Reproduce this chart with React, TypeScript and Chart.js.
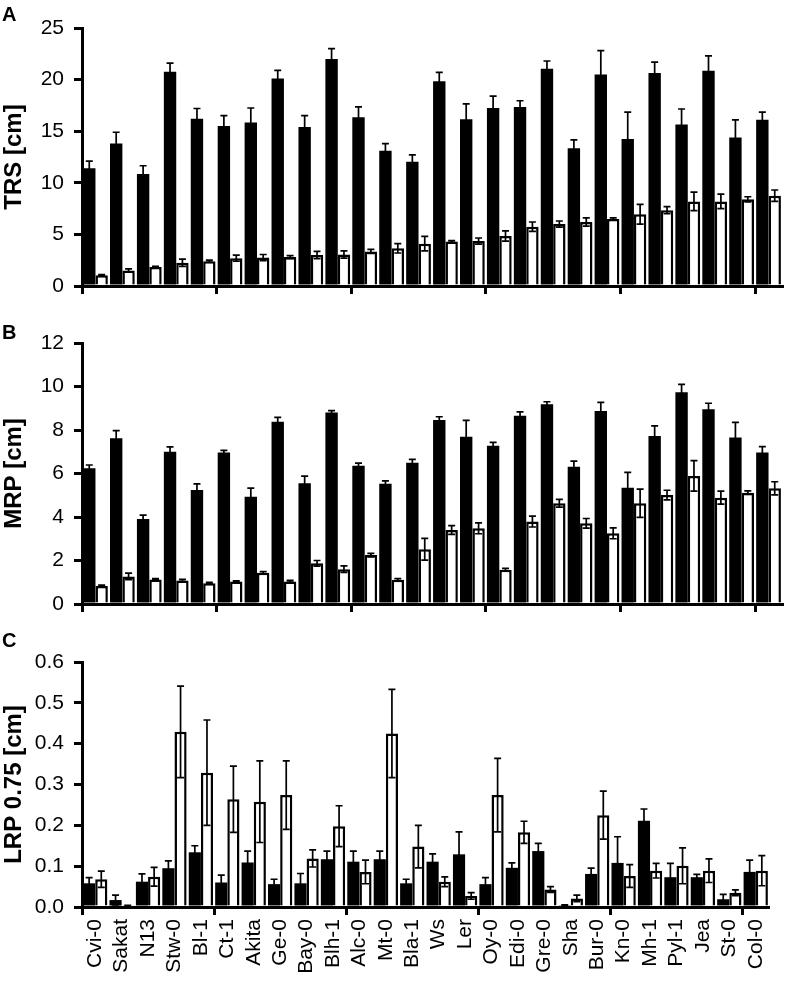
import React, { useEffect, useRef } from "react";
import { Chart, registerables } from "chart.js";

Chart.register(...registerables);

const categories = ["Cvi-0","Sakat","N13","Stw-0","Bl-1","Ct-1","Akita","Ge-0","Bay-0","Blh-1","Alc-0","Mt-0","Bla-1","Ws","Ler","Oy-0","Edi-0","Gre-0","Sha","Bur-0","Kn-0","Mh-1","Pyl-1","Jea","St-0","Col-0"];

const trsBlack = [11.4, 13.8, 10.85, 20.75, 16.2, 15.5, 15.85, 20.1, 15.4, 22.0, 16.35, 13.1, 12.05, 19.85, 16.15, 17.25, 17.35, 21.05, 13.35, 20.5, 14.25, 20.65, 15.65, 20.85, 14.4, 16.1];
const trsBlackErr = [0.7, 1.1, 0.8, 0.85, 1.0, 1.0, 1.4, 0.8, 1.1, 1.0, 1.0, 0.7, 0.65, 0.85, 1.5, 1.15, 0.6, 0.75, 0.8, 2.3, 2.6, 1.05, 1.5, 1.45, 1.7, 0.75];
const trsWhite = [1.05, 1.5, 1.85, 2.25, 2.4, 2.7, 2.75, 2.8, 3.0, 3.05, 3.35, 3.65, 4.1, 4.3, 4.35, 4.85, 5.75, 6.0, 6.2, 6.5, 6.95, 7.35, 8.2, 8.2, 8.4, 8.75];
const trsWhiteErr = [0.05, 0.15, 0.05, 0.35, 0.1, 0.3, 0.3, 0.15, 0.35, 0.35, 0.2, 0.45, 0.7, 0.1, 0.3, 0.5, 0.45, 0.3, 0.4, 0.1, 0.95, 0.35, 0.9, 0.7, 0.25, 0.55];

const mrpBlack = [6.24, 7.62, 3.91, 7.0, 5.24, 6.96, 4.93, 8.38, 5.55, 8.81, 6.36, 5.53, 6.5, 8.46, 7.69, 7.28, 8.66, 9.18, 6.31, 8.87, 5.35, 7.72, 9.73, 8.95, 7.65, 6.96];
const mrpBlackErr = [0.15, 0.35, 0.18, 0.22, 0.28, 0.1, 0.4, 0.2, 0.33, 0.08, 0.12, 0.13, 0.15, 0.15, 0.75, 0.15, 0.17, 0.12, 0.26, 0.4, 0.7, 0.47, 0.37, 0.28, 0.7, 0.28];
const mrpWhite = [0.83, 1.27, 1.13, 1.08, 0.95, 1.03, 1.44, 1.04, 1.87, 1.6, 2.25, 1.12, 2.52, 3.4, 3.48, 1.58, 3.79, 4.63, 3.71, 3.25, 4.63, 5.01, 5.89, 4.89, 5.12, 5.32];
const mrpWhiteErr = [0.04, 0.15, 0.04, 0.05, 0.04, 0.04, 0.05, 0.05, 0.13, 0.15, 0.08, 0.05, 0.5, 0.2, 0.25, 0.06, 0.25, 0.18, 0.22, 0.25, 0.65, 0.22, 0.7, 0.3, 0.08, 0.3];

const lrpBlack = [0.058, 0.017, 0.062, 0.095, 0.134, 0.06, 0.109, 0.056, 0.058, 0.117, 0.111, 0.117, 0.058, 0.111, 0.129, 0.056, 0.096, 0.137, 0.003, 0.081, 0.108, 0.211, 0.073, 0.073, 0.019, 0.086];
const lrpBlackErr = [0.014, 0.012, 0.019, 0.018, 0.016, 0.018, 0.028, 0.012, 0.024, 0.02, 0.026, 0.02, 0.01, 0.019, 0.055, 0.016, 0.012, 0.019, 0.002, 0.014, 0.064, 0.029, 0.034, 0.007, 0.012, 0.029];
const lrpWhite = [0.068, 0.003, 0.074, 0.429, 0.329, 0.264, 0.258, 0.274, 0.119, 0.198, 0.086, 0.425, 0.148, 0.062, 0.027, 0.274, 0.183, 0.043, 0.021, 0.225, 0.076, 0.089, 0.101, 0.089, 0.035, 0.089];
const lrpWhiteErr = [0.02, 0.001, 0.023, 0.112, 0.129, 0.081, 0.1, 0.084, 0.021, 0.05, 0.029, 0.108, 0.052, 0.012, 0.008, 0.09, 0.027, 0.007, 0.008, 0.059, 0.028, 0.018, 0.044, 0.029, 0.007, 0.037];

const FONT = "'Liberation Sans', Arial, Helvetica, sans-serif";

const errorBarPlugin = {
  id: "errorBars",
  afterDatasetsDraw(chart: any) {
    const ctx = chart.ctx;
    const yScale = chart.scales.y;
    ctx.save();
    ctx.strokeStyle = "#000";
    ctx.lineWidth = 1.7;
    chart.data.datasets.forEach((ds: any, di: number) => {
      const meta = chart.getDatasetMeta(di);
      const errs = ds.errors || [];
      meta.data.forEach((el: any, i: number) => {
        const v = ds.data[i];
        const e = errs[i];
        if (e == null) return;
        const x = el.x;
        const yTop = yScale.getPixelForValue(v + e);
        const yBot = yScale.getPixelForValue(Math.max(0, v - e));
        const cap = 3.5;
        ctx.beginPath();
        ctx.moveTo(x, yBot);
        ctx.lineTo(x, yTop);
        ctx.moveTo(x - cap, yTop);
        ctx.lineTo(x + cap, yTop);
        ctx.moveTo(x - cap, yBot);
        ctx.lineTo(x + cap, yBot);
        ctx.stroke();
      });
    });
    ctx.restore();
  },
};

type PanelProps = {
  black: number[];
  blackErr: number[];
  white: number[];
  whiteErr: number[];
  max: number;
  step: number;
  decimals: number;
  title: string;
  showLabels: boolean;
  height: number;
  padTop: number;
  xAxisHeight: number;
};

function Panel(p: PanelProps) {
  const ref = useRef<HTMLCanvasElement | null>(null);
  useEffect(() => {
    if (!ref.current) return;
    const chart = new Chart(ref.current, {
      type: "bar",
      data: {
        labels: categories,
        datasets: [
          {
            data: p.black,
            errors: p.blackErr,
            backgroundColor: "#000",
            borderColor: "#000",
            borderWidth: 0,
            categoryPercentage: 0.92,
            barPercentage: 1.0,
          } as any,
          {
            data: p.white,
            errors: p.whiteErr,
            backgroundColor: "#fff",
            borderColor: "#000",
            borderWidth: 2.5,
            borderSkipped: "bottom",
            categoryPercentage: 0.92,
            barPercentage: 1.0,
          } as any,
        ],
      },
      options: {
        animation: false,
        responsive: false,
        devicePixelRatio: 1,
        layout: { padding: { top: p.padTop, right: 3, left: 0, bottom: 0 } },
        plugins: { legend: { display: false }, tooltip: { enabled: false } },
        scales: {
          x: {
            type: "category",
            offset: true,
            grid: {
              offset: true,
              drawOnChartArea: false,
              drawTicks: true,
              tickLength: 8,
              lineWidth: 3,
              color: (c: any) => (c.index % 5 === 0 ? "#000" : "rgba(0,0,0,0)"),
            },
            border: { display: true, color: "#000", width: 3 },
            ticks: {
              display: p.showLabels,
              autoSkip: false,
              maxRotation: 90,
              minRotation: 90,
              padding: 4,
              color: "#000",
              font: { family: FONT, size: 21 },
            },
            afterFit: (scale: any) => {
              scale.height = p.xAxisHeight;
            },
          },
          y: {
            min: 0,
            max: p.max,
            grid: {
              drawOnChartArea: false,
              drawTicks: true,
              tickLength: 8,
              lineWidth: 3,
              color: "#000",
            },
            border: { display: true, color: "#000", width: 3 },
            ticks: {
              stepSize: p.step,
              padding: 10,
              color: "#000",
              font: { family: FONT, size: 21 },
              callback: (v: any) => Number(v).toFixed(p.decimals),
            },
            title: {
              display: true,
              text: p.title,
              color: "#000",
              padding: { top: 0, bottom: 0 },
              font: { family: FONT, size: 24, weight: "bold" },
            },
            afterFit: (scale: any) => {
              scale.width = 82;
            },
          },
        },
      } as any,
      plugins: [errorBarPlugin],
    });
    return () => chart.destroy();
  }, []);
  return <canvas ref={ref} width={785} height={p.height} style={{ display: "block", width: 785, height: p.height }} />;
}

const letterStyle: React.CSSProperties = {
  position: "absolute",
  left: 2,
  fontFamily: FONT,
  fontWeight: "bold",
  fontSize: 20,
  lineHeight: "20px",
  color: "#000",
};

export default function App() {
  return (
    <div style={{ position: "absolute", left: 0, top: 0, width: 785, height: 981, overflow: "hidden", background: "#fff" }}>
      <div style={{ position: "absolute", left: 0, top: 0 }}>
        <Panel black={trsBlack} blackErr={trsBlackErr} white={trsWhite} whiteErr={trsWhiteErr}
          max={25} step={5} decimals={0} title="TRS [cm]" showLabels={false}
          height={316} padTop={28} xAxisHeight={30} />
      </div>
      <div style={{ position: "absolute", left: 0, top: 300 }}>
        <Panel black={mrpBlack} blackErr={mrpBlackErr} white={mrpWhite} whiteErr={mrpWhiteErr}
          max={12} step={2} decimals={0} title="MRP [cm]" showLabels={false}
          height={334} padTop={43} xAxisHeight={30} />
      </div>
      <div style={{ position: "absolute", left: 0, top: 620 }}>
        <Panel black={lrpBlack} blackErr={lrpBlackErr} white={lrpWhite} whiteErr={lrpWhiteErr}
          max={0.6} step={0.1} decimals={1} title="LRP 0.75 [cm]" showLabels={true}
          height={380} padTop={42} xAxisHeight={93} />
      </div>
      <div style={{ ...letterStyle, top: 4 }}>A</div>
      <div style={{ ...letterStyle, top: 322 }}>B</div>
      <div style={{ ...letterStyle, top: 630 }}>C</div>
    </div>
  );
}
